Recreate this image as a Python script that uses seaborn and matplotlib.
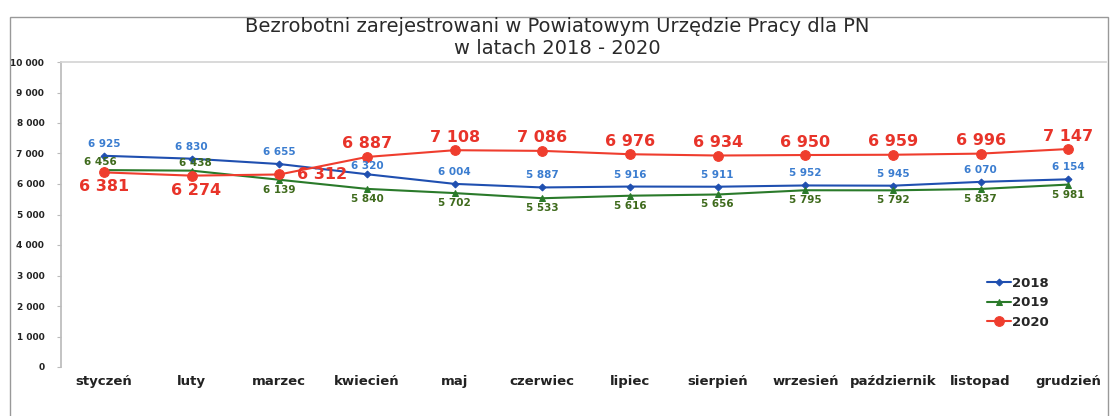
import numpy as np
import pandas as pd
import matplotlib
matplotlib.use('Agg')
import matplotlib.pyplot as plt
from matplotlib.patches import Rectangle
from matplotlib.ticker import FuncFormatter
import seaborn as sns

sns.set_theme(style='white')
plt.rcParams['font.family'] = ['DejaVu Sans']

months = ['styczeń', 'luty', 'marzec', 'kwiecień', 'maj', 'czerwiec', 'lipiec',
          'sierpień', 'wrzesień', 'październik', 'listopad', 'grudzień']
y2018 = [6925, 6830, 6655, 6320, 6004, 5887, 5916, 5911, 5952, 5945, 6070, 6154]
y2019 = [6456, 6438, 6139, 5840, 5702, 5533, 5616, 5656, 5795, 5792, 5837, 5981]
y2020 = [6381, 6274, 6312, 6887, 7108, 7086, 6976, 6934, 6950, 6959, 6996, 7147]
years = ['2018', '2019', '2020']

title = 'Bezrobotni zarejestrowani w Powiatowym Urzędzie Pracy dla PN\nw latach 2018 - 2020'

# label offsets in pixels (dx, dy, ha)
off2018 = [(0, 12, 'center')] * 12
off2018[3] = (0, 8, 'center')
off2019 = [(-4, 8, 'center'), (4, 8, 'center')] + [(0, -10, 'center')] * 10
off2020 = [(0, -14, 'center'), (4, -15, 'center'), (18, 0, 'left')] + [(0, 13, 'center')] * 9

styles = {
    '2018': dict(color='#1f4fb0', marker='D', ms=3.5, lab='#3b7dd0', size=7.5, offs=off2018),
    '2019': dict(color='#2a7a2a', marker='^', ms=4.5, lab='#3e6a1c', size=7.5, offs=off2019),
    '2020': dict(color='#ef3d2e', marker='o', ms=7, lab='#e8342a', size=11.5, offs=off2020),
}

fig = plt.figure(figsize=(11.15, 4.16), dpi=100)
ax = fig.add_axes([61/1115, 1 - 367/416, (1106 - 61)/1115, (367 - 62)/416])

for yr, vals in zip(years, [y2018, y2019, y2020]):
    st = styles[yr]
    df = pd.DataFrame({'miesiac': months, 'liczba': vals})
    sns.lineplot(data=df, x='miesiac', y='liczba', ax=ax, color=st['color'],
                 marker=st['marker'], markersize=st['ms'], markeredgecolor=st['color'],
                 linewidth=1.5, label=yr, sort=False)
    for i, v in enumerate(vals):
        dx, dy, ha = st['offs'][i]
        ax.annotate('{:,}'.format(v).replace(',', ' '), xy=(i, v), xytext=(dx, dy),
                    textcoords='offset pixels', ha=ha, va='center',
                    fontsize=st['size'], fontweight='bold', color=st['lab'])

ax.set_xlim(-0.49, 11.43)
ax.set_ylim(0, 10000)
ax.set_yticks(np.arange(0, 10001, 1000))
ax.yaxis.set_major_formatter(FuncFormatter(lambda v, p: '{:,}'.format(int(v)).replace(',', ' ')))
ax.set_xlabel('')
ax.set_ylabel('')
ax.tick_params(axis='y', labelsize=6.5, length=3, width=0.8, pad=9, left=True)
ax.tick_params(axis='x', labelsize=9.5, length=0, pad=6)
for lab in ax.get_yticklabels() + ax.get_xticklabels():
    lab.set_fontweight('bold')
    lab.set_color('#222222')
ax.tick_params(axis='y', color='#bbbbbb')
ax.spines['left'].set_color('#bbbbbb')
ax.spines['top'].set_color('#d5d5d5')
ax.spines['right'].set_visible(False)
ax.spines['bottom'].set_visible(False)

leg = ax.legend(loc='center left', bbox_to_anchor=(0.875, 0.21), frameon=False,
                handlelength=1.8, handletextpad=0.1, labelspacing=0.5,
                prop={'size': 9.5, 'weight': 'bold'})

fig.text(0.5, 1 - 38/416, title, ha='center', va='center', fontsize=14,
         color='#2a2a2a', linespacing=1.2)

fig.patches.append(Rectangle((10/1115, -0.1), (1108 - 10)/1115, 1.1 - 17/416,
                             transform=fig.transFigure, fill=False,
                             edgecolor='#999999', linewidth=1.0))

fig.savefig('out.png', dpi=100)
plt.close(fig)
